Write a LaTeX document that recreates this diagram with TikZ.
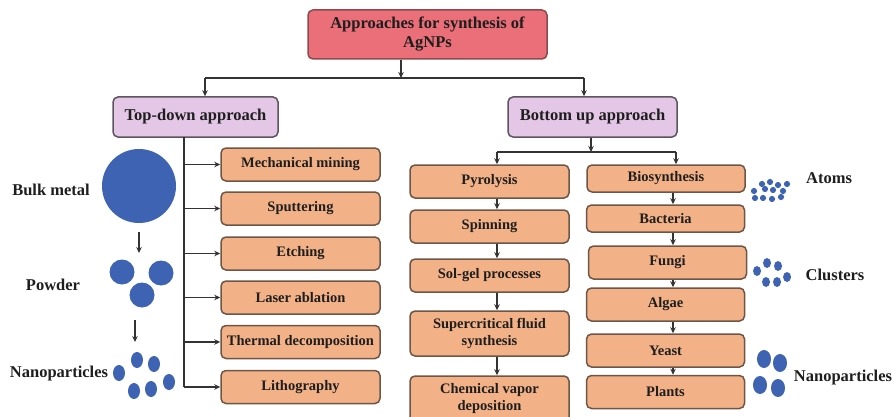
\documentclass[tikz,border=0pt]{standalone}
\usepackage{fontspec}
\setmainfont{Liberation Serif}
\usetikzlibrary{arrows.meta}
\definecolor{titlefill}{HTML}{EA6F78}
\definecolor{titledraw}{HTML}{8E4A4E}
\definecolor{purfill}{HTML}{E4C6E6}
\definecolor{purdraw}{HTML}{5E545E}
\definecolor{orfill}{HTML}{F2B187}
\definecolor{ordraw}{HTML}{6E5646}
\definecolor{bluec}{HTML}{3E63B3}
\definecolor{linec}{HTML}{333333}
\definecolor{txtc}{HTML}{1E1E1E}
\tikzset{
  basebox/.style={rounded corners=5pt, line width=1.5pt, align=center, inner sep=0pt, text=txtc},
  obox/.style={basebox, fill=orfill, draw=ordraw, minimum width=159pt, minimum height=33pt,
    font=\bfseries\fontsize{14.5}{17}\selectfont},
  pbox/.style={basebox, fill=purfill, draw=purdraw, minimum height=40pt,
    font=\bfseries\fontsize{16.5}{18}\selectfont},
  tbox/.style={basebox, fill=titlefill, draw=titledraw, minimum width=239pt, minimum height=49pt,
    font=\bfseries\fontsize{16.5}{19}\selectfont},
  conn/.style={draw=linec, line width=1.7pt},
  arr/.style={conn, -{Stealth[length=6pt,width=5.5pt]}},
  dot/.style={fill=bluec, draw=none},
  lbl/.style={font=\bfseries\fontsize{16.5}{18}\selectfont, text=txtc, inner sep=0pt}
}
\begin{document}
\begin{tikzpicture}[x=1pt,y=-1pt]
\useasboundingbox (0,0) rectangle (893,417);
% title and approaches
\node[tbox] (title) at (427.5,34.5) {Approaches for synthesis of\\AgNPs};
\node[pbox, minimum width=165pt] (top) at (195.5,117) {Top-down approach};
\node[pbox, minimum width=169pt] (bot) at (592.5,117) {Bottom up approach};
% top-down methods
\node[obox] (mech) at (300.5,164.5) {Mechanical mining};
\node[obox] (sput) at (300.5,208.5) {Sputtering};
\node[obox] (etch) at (300.5,253.5) {Etching};
\node[obox] (laser) at (300.5,297.5) {Laser ablation};
\node[obox] (therm) at (300.5,342) {Thermal decomposition};
\node[obox] (litho) at (300.5,387) {Lithography};
% bottom-up chemical/physical
\node[obox] (pyro) at (489.5,181.5) {Pyrolysis};
\node[obox] (spin) at (489.5,226.5) {Spinning};
\node[obox] (sol) at (489.5,275.5) {Sol-gel processes};
\node[obox, minimum height=45pt] (scf) at (489.5,333.5) {Supercritical fluid\\synthesis};
\node[obox, minimum height=46pt] (cvd) at (489.5,399) {Chemical vapor\\deposition};
% bottom-up biological
\node[obox, minimum width=158pt, minimum height=27pt] (bio) at (666,178.5) {Biosynthesis};
\node[obox, minimum width=158pt, minimum height=27pt] (bact) at (665.5,218.5) {Bacteria};
\node[obox, minimum width=158pt] (fungi) at (667.5,262.5) {Fungi};
\node[obox, minimum width=158pt] (algae) at (665.5,304.5) {Algae};
\node[obox, minimum width=158pt] (yeast) at (665.5,350.5) {Yeast};
\node[obox, minimum width=158pt] (plants) at (665.5,392) {Plants};
% junctions
\coordinate (j0) at (401,78);
\coordinate (jl) at (205,78);
\coordinate (jr) at (584,78);
\draw[arr] (title.south -| j0) -- (j0);
\draw[conn] (jl) -- (jr);
\draw[arr] (jl) -- (jl |- top.north);
\draw[arr] (jr) -- (jr |- bot.north);
% top-down trunk
\coordinate (tk) at (184,137);
\coordinate (tkend) at (184,387);
\draw[conn] (tk) -- (tkend);
\foreach \n in {mech,sput,etch,laser,therm,litho}
  \draw[arr] (tk |- \n.west) -- (\n.west);
% bottom-up split
\coordinate (b0) at (591,152);
\coordinate (bl) at (497,152);
\coordinate (br) at (676,152);
\coordinate (bc) at (673,152);
\draw[arr] (b0 |- bot.south) -- (b0);
\draw[conn] (bl) -- (br);
\draw[arr] (bl) -- (bl |- pyro.north);
\draw[arr] (br) -- (br |- bio.north);
\foreach \a/\b in {pyro/spin,spin/sol,sol/scf,scf/cvd}
  \draw[arr] (bl |- \a.south) -- (bl |- \b.north);
\foreach \a/\b in {bio/bact,bact/fungi,fungi/algae,algae/yeast,yeast/plants}
  \draw[arr] (bc |- \a.south) -- (bc |- \b.north);
% left illustrations
\node[lbl] (lbulk) at (51,190) {Bulk metal};
\node[lbl] (lpow) at (53,285) {Powder};
\node[lbl] (lnano) at (59,374) {Nanoparticles};
\fill[dot] (139,186) circle[radius=37pt];
\fill[dot] (122,272) circle[radius=12.5pt];
\fill[dot] (161,273) circle[radius=12.5pt];
\fill[dot] (142,295) circle[radius=12.5pt];
\coordinate (a1s) at (139,232);
\coordinate (a1e) at (139,253);
\draw[arr] (a1s) -- (a1e);
\coordinate (a2s) at (135,320);
\coordinate (a2e) at (135,342);
\draw[arr] (a2s) -- (a2e);
\foreach \x/\y in {119/373,137/360,154/364,169/382,151/389,134/391}
  \fill[dot] (\x,\y) ellipse[x radius=6pt, y radius=8pt];
% right illustrations
\node[lbl] (latoms) at (829,178) {Atoms};
\node[lbl] (lclus) at (835,275) {Clusters};
\node[lbl] (lnano2) at (843,378) {Nanoparticles};
\foreach \x/\y in {762/184,770/182,778/185,787/184,
                   754/191,765/189,773/190,783/191,
                   755/198,763/198,772/199,781/197}
  \fill[dot] (\x,\y) circle[radius=3.1pt];
\foreach \x/\y in {757/271,767/263,778/266,766/282,777/282,787/277}
  \fill[dot] (\x,\y) ellipse[x radius=4pt, y radius=5pt];
\foreach \x/\y in {764/359,780/363,760/385,778/388}
  \fill[dot] (\x,\y) ellipse[x radius=7pt, y radius=9pt];
\end{tikzpicture}
\end{document}
